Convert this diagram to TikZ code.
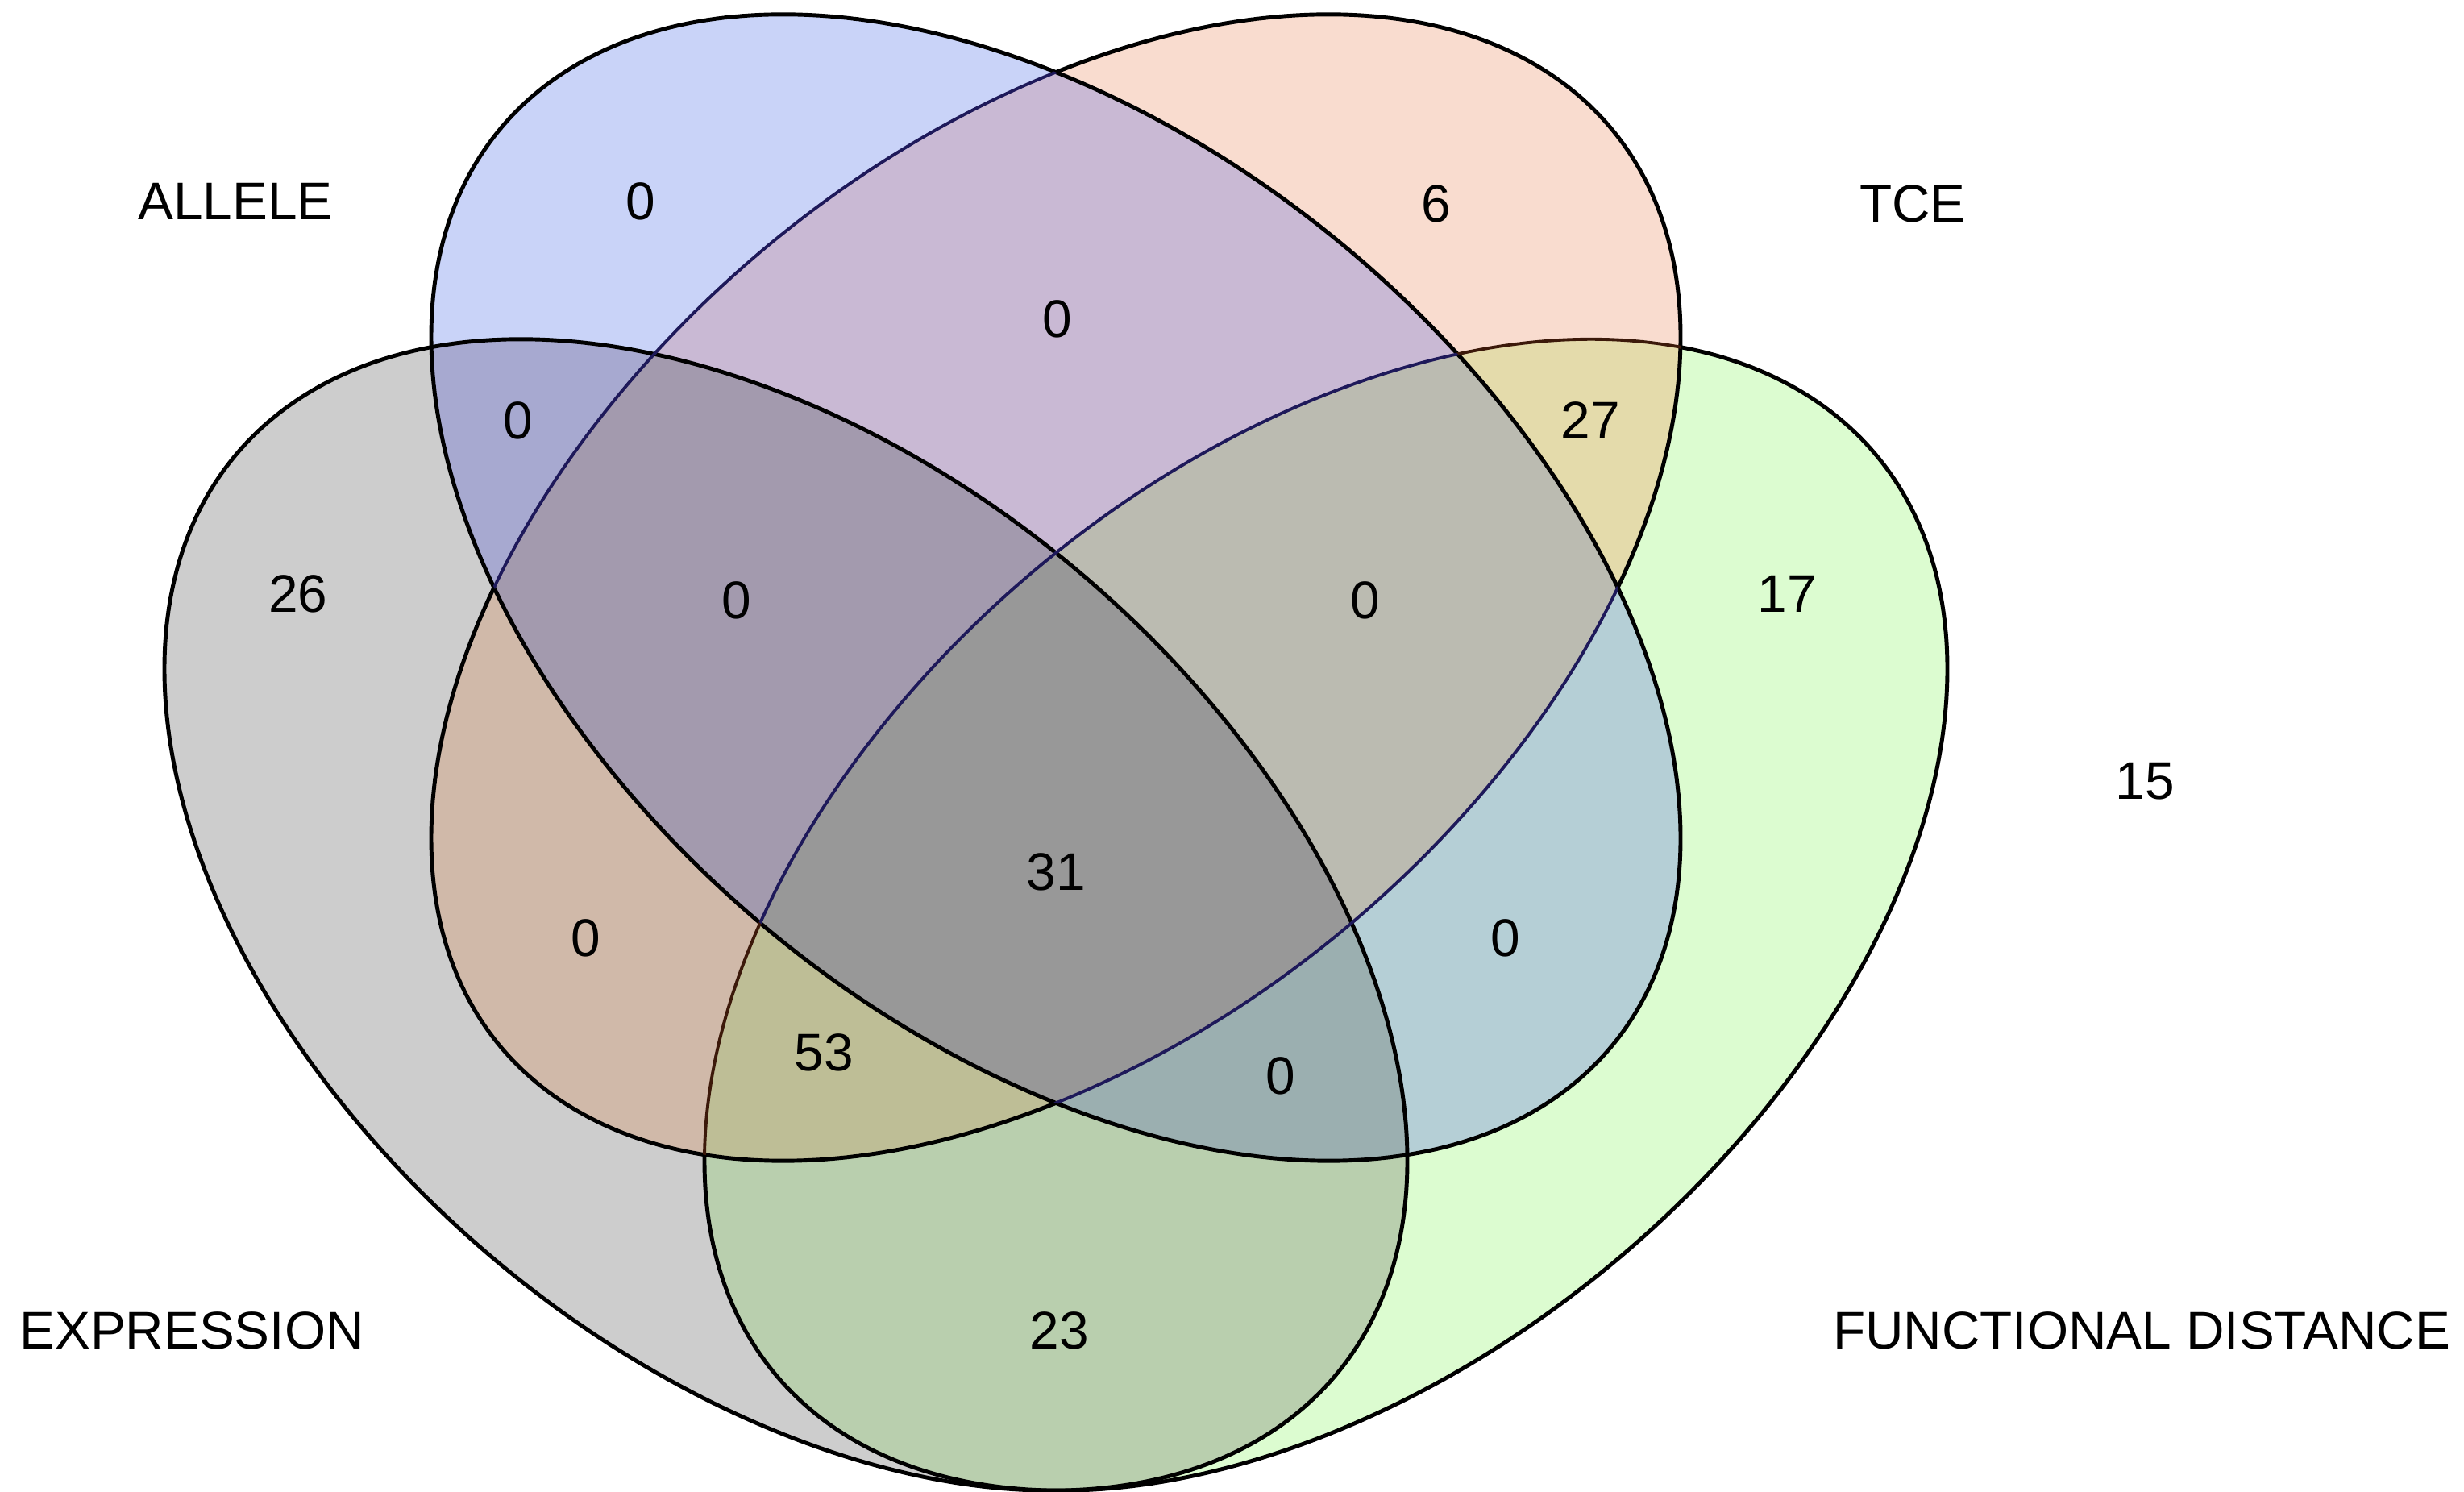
\documentclass[tikz,border=0pt]{standalone}
\usepackage{fontspec}
\setmainfont{Liberation Sans}
\definecolor{cA}{RGB}{201,211,248}
\definecolor{cT}{RGB}{249,220,207}
\definecolor{cE}{RGB}{205,205,205}
\definecolor{cF}{RGB}{220,252,208}
\definecolor{cAT}{RGB}{201,185,212}
\definecolor{cAE}{RGB}{167,169,208}
\definecolor{cAF}{RGB}{181,207,214}
\definecolor{cTE}{RGB}{208,185,169}
\definecolor{cTF}{RGB}{228,219,171}
\definecolor{cEF}{RGB}{185,207,174}
\definecolor{cATE}{RGB}{163,154,174}
\definecolor{cATF}{RGB}{187,187,177}
\definecolor{cAEF}{RGB}{155,175,176}
\definecolor{cTEF}{RGB}{190,190,150}
\definecolor{cATEF}{RGB}{152,152,152}
\definecolor{navyline}{RGB}{30,25,90}
\definecolor{brownline}{RGB}{60,25,10}
\newcommand\vclip[1]{\clip[#1] (0,0) circle [radius=1cm];}
\newcommand\vpaint[1]{\fill[#1] (-1,-1) rectangle (31.57,19.5);}
% clip to the outside of an ellipse given by centre and two conjugate semi-axes
\newcommand\voutclip[3]{%
  \pgfpathrectangle{\pgfpointxy{-1}{-1}}{\pgfpointxy{33}{21}}%
  \pgfpathellipse{#1}{#2}{#3}\pgfseteorule\pgfusepath{clip}}
\newcommand\voutA{\voutclip{\pgfpointxy{13.10}{11.21}}{\pgfpointxy{7.75}{-3.11}}{\pgfpointxy{0}{6.394}}}
\newcommand\voutT{\voutclip{\pgfpointxy{13.10}{11.21}}{\pgfpointxy{7.75}{3.11}}{\pgfpointxy{0}{6.394}}}
\begin{document}
\begin{tikzpicture}[x=1cm,y=1cm,
  ellA/.style={cm={7.75,-3.11,0,6.394,(13.10,11.21)}},
  ellT/.style={cm={7.75,3.11,0,6.394,(13.10,11.21)}},
  ellE/.style={cm={7.71,-3.05,0,6.456,(9.75,7.15)}},
  ellF/.style={cm={7.71,3.05,0,6.456,(16.45,7.15)}},
  outline/.style={draw=black, line width=1.4pt},
  inline/.style={line width=1.1pt},
  lbl/.style={font=\fontsize{18.7}{22}\selectfont, inner sep=0pt}]
\useasboundingbox (0,0) rectangle (30.57,18.5);
% singles
\begin{scope}\vclip{ellA}\vpaint{cA}\end{scope}
\begin{scope}\vclip{ellT}\vpaint{cT}\end{scope}
\begin{scope}\vclip{ellE}\vpaint{cE}\end{scope}
\begin{scope}\vclip{ellF}\vpaint{cF}\end{scope}
% pairs
\begin{scope}\vclip{ellA}\vclip{ellT}\vpaint{cAT}\end{scope}
\begin{scope}\vclip{ellA}\vclip{ellE}\vpaint{cAE}\end{scope}
\begin{scope}\vclip{ellA}\vclip{ellF}\vpaint{cAF}\end{scope}
\begin{scope}\vclip{ellT}\vclip{ellE}\vpaint{cTE}\end{scope}
\begin{scope}\vclip{ellT}\vclip{ellF}\vpaint{cTF}\end{scope}
\begin{scope}\vclip{ellE}\vclip{ellF}\vpaint{cEF}\end{scope}
% triples
\begin{scope}\vclip{ellA}\vclip{ellT}\vclip{ellE}\vpaint{cATE}\end{scope}
\begin{scope}\vclip{ellA}\vclip{ellT}\vclip{ellF}\vpaint{cATF}\end{scope}
\begin{scope}\vclip{ellA}\vclip{ellE}\vclip{ellF}\vpaint{cAEF}\end{scope}
\begin{scope}\vclip{ellT}\vclip{ellE}\vclip{ellF}\vpaint{cTEF}\end{scope}
% all four
\begin{scope}\vclip{ellA}\vclip{ellT}\vclip{ellE}\vclip{ellF}\vpaint{cATEF}\end{scope}
% outlines: EXPRESSION and ALLELE in black
\draw[outline, ellE] (0,0) circle [radius=1cm];
\draw[outline, ellA] (0,0) circle [radius=1cm];
% TCE: black outside ALLELE, navy inside
\begin{scope}\voutA
  \draw[outline, ellT] (0,0) circle [radius=1cm];
\end{scope}
\begin{scope}\vclip{ellA}
  \draw[inline, draw=navyline, ellT] (0,0) circle [radius=1cm];
\end{scope}
% FUNCTIONAL DISTANCE: black outside TCE and ALLELE, tinted inside
\begin{scope}\voutT\voutA
  \draw[outline, ellF] (0,0) circle [radius=1cm];
\end{scope}
\begin{scope}\vclip{ellT}\voutA
  \draw[inline, draw=brownline, ellF] (0,0) circle [radius=1cm];
\end{scope}
\begin{scope}\vclip{ellA}
  \draw[inline, draw=navyline, ellF] (0,0) circle [radius=1cm];
\end{scope}
% set labels
\node[lbl] (lA) at (2.92,16.00) {ALLELE};
\node[lbl] (lT) at (23.73,15.97) {TCE};
\node[lbl] (lE) at (2.38,1.99) {EXPRESSION};
\node[lbl] (lF) at (26.57,1.99) {FUNCTIONAL DISTANCE};
\node[lbl] (nOut) at (26.61,8.81) {15};
% region counts
\node[lbl] (nA) at (7.95,16.00) {0};
\node[lbl] (nT) at (17.82,15.97) {6};
\node[lbl] (nAT) at (13.12,14.54) {0};
\node[lbl] (nAE) at (6.43,13.28) {0};
\node[lbl] (nTF) at (19.73,13.28) {27};
\node[lbl] (nE) at (3.70,11.13) {26};
\node[lbl] (nATE) at (9.14,11.05) {0};
\node[lbl] (nATF) at (16.94,11.05) {0};
\node[lbl] (nF) at (22.17,11.13) {17};
\node[lbl] (nATEF) at (13.10,7.68) {31};
\node[lbl] (nTE) at (7.27,6.86) {0};
\node[lbl] (nAF) at (18.68,6.86) {0};
\node[lbl] (nTEF) at (10.22,5.44) {53};
\node[lbl] (nAEF) at (15.89,5.15) {0};
\node[lbl] (nEF) at (13.14,1.99) {23};
\end{tikzpicture}
\end{document}
